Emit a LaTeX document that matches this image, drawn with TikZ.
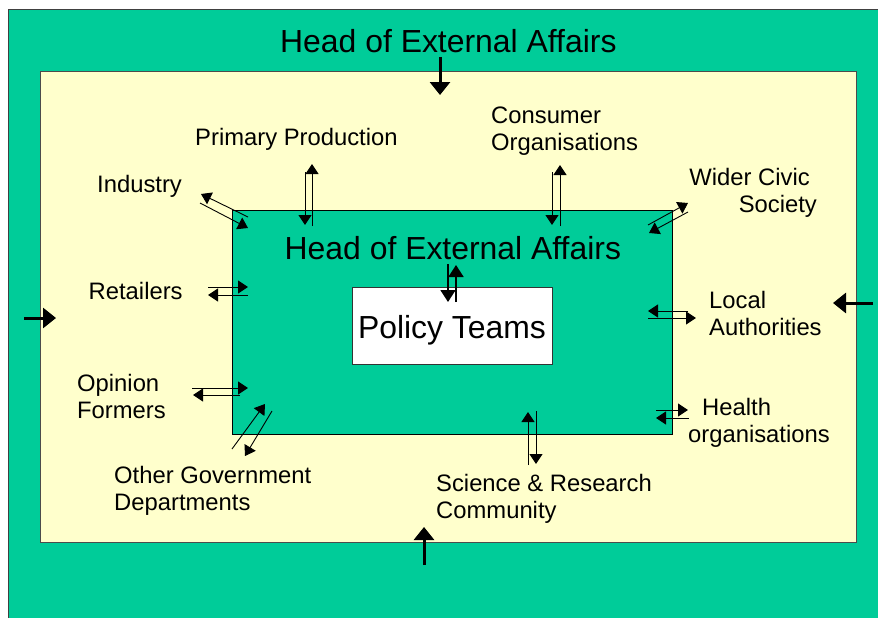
\documentclass[tikz,border=0pt]{standalone}
\usepackage{fontspec}
\setmainfont{Liberation Sans}
\usetikzlibrary{arrows.meta}
\definecolor{sea}{RGB}{0,204,153}
\definecolor{cream}{RGB}{255,255,204}

\begin{document}
\begin{tikzpicture}[x=1pt,y=-1pt,
  lbl/.style={font=\fontsize{23.8}{27}\selectfont, inner sep=0pt, align=left, anchor=base west},
  head/.style={font=\fontsize{31.9}{36}\selectfont, inner sep=0pt, anchor=base west},
  duplex/.style={line width=0.9pt, -{Triangle[length=10pt,width=13pt]}},
  core/.style={line width=1.8pt, -{Triangle[length=12pt,width=15pt]}},
  feed/.style={line width=3pt, -{Triangle[length=13pt,width=20pt]}},
]
\useasboundingbox (0,0) rectangle (878,618);

% outer band
\fill[sea] (8,10) rectangle (878,618);
\draw[black!75, line width=1pt] (8,618) -- (8,10) -- (878,10);
% stakeholder field
\draw[fill=cream, draw=black!70, line width=1pt] (40,72) rectangle (856,542);
% agency block
\draw[fill=sea, draw=black, line width=0.8pt] (232,210) rectangle (672,434);

% headings
\node[head] (outerhead) at (280,53) {Head of External Affairs};
\node[head] (innerhead) at (284.5,259) {Head of External Affairs};
\node[draw=black!80, fill=white, line width=0.8pt, inner sep=0pt,
      minimum width=200pt, minimum height=77pt,
      text height=30pt, text depth=5pt,
      font=\fontsize{31.9}{36}\selectfont] (policy) at (452,325.5) {Policy Teams};

% stakeholder labels (multi-line labels are placed by their last baseline)
\node[lbl] (primary) at (195,145) {Primary Production};
\node[lbl] (industry) at (97,192) {Industry};
\node[lbl] (consumer) at (491,150.3) {Consumer\\Organisations};
\node[lbl, align=right, anchor=base east] (civic) at (817,212) {Wider Civic\hspace*{7pt}\\Society};
\node[lbl] (retailers) at (88.5,299) {Retailers};
\node[lbl] (local) at (709,335) {Local\\Authorities};
\node[lbl] (opinion) at (77,418.5) {Opinion\\Formers};
\node[lbl] (health) at (688,442) {\hspace*{14pt}Health\\organisations};
\node[lbl] (othergov) at (114,510) {Other Government\\Departments};
\node[lbl] (science) at (436,518.5) {Science \& Research\\Community};

% two-way exchanges: each pair is two parallel one-way arrows
\foreach \n/\a/\b in {
    pp1/{305,172}/{305,225}, pp2/{312,226}/{312,164},
    co1/{552,172}/{552,225}, co2/{560,226}/{560,165},
    in1/{248,217}/{201,194}, in2/{200,203}/{248,228},
    wc1/{648,225}/{688,203}, wc2/{688,212}/{649,233},
    re1/{208,287}/{248,287}, re2/{248,295}/{208,295},
    op1/{192,388}/{248,388}, op2/{240,395}/{193,395},
    og1/{232,449}/{265,404}, og2/{272,411}/{245,456},
    la1/{688,311}/{648,311}, la2/{648,318}/{696,318},
    he1/{656,410}/{688,410}, he2/{689,418}/{656,418},
    sr1/{528,465}/{528,412}, sr2/{536,411}/{536,464}} {
  \coordinate (\n-from) at (\a);
  \coordinate (\n-to) at (\b);
  \draw[duplex] (\n-from) -- (\n-to);
}

% head of external affairs <-> policy teams
\coordinate (hp1-from) at (448,264);
\coordinate (hp1-to) at (448,302);
\coordinate (hp2-from) at (456,302);
\coordinate (hp2-to) at (456,265);
\draw[core] (hp1-from) -- (hp1-to);
\draw[core] (hp2-from) -- (hp2-to);

% inputs from the outer band
\coordinate (ftop-from) at (440,57);
\coordinate (ftop-to) at (440,95);
\coordinate (fbot-from) at (424,565);
\coordinate (fbot-to) at (424,527);
\coordinate (flft-from) at (24,318);
\coordinate (flft-to) at (56,318);
\coordinate (frgt-from) at (873,303);
\coordinate (frgt-to) at (833,303);
\draw[feed] (ftop-from) -- (ftop-to);
\draw[feed] (fbot-from) -- (fbot-to);
\draw[feed] (flft-from) -- (flft-to);
\draw[feed] (frgt-from) -- (frgt-to);
\end{tikzpicture}
\end{document}
